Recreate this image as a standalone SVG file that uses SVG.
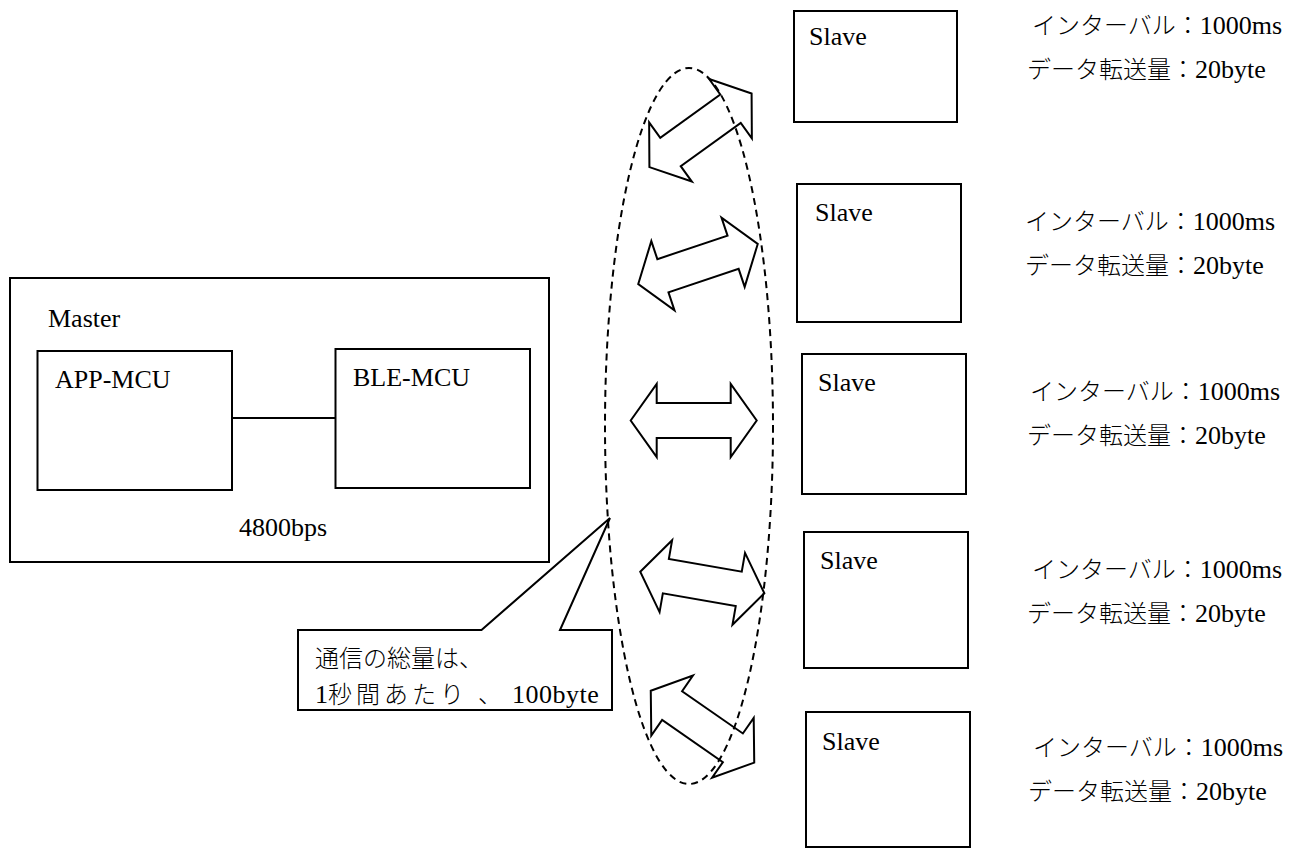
<svg xmlns="http://www.w3.org/2000/svg" width="1298" height="848" viewBox="0 0 1298 848">
<style>
.box{fill:#fff;stroke:#000;stroke-width:2}
.t{font-family:"Liberation Serif","Noto Sans CJK JP",serif;font-size:26px;fill:#000}
.j{font-family:"Noto Sans CJK JP","Liberation Serif",sans-serif;font-size:24px;font-weight:300}
.ln{stroke:#000;stroke-width:2;fill:none}
.arr{fill:none;stroke:#000;stroke-width:2;stroke-linejoin:miter}
.dash{fill:none;stroke:#000;stroke-width:2;stroke-dasharray:7 5}
</style>
<defs>
<path id="dblarrow" d="M -63 0 L -37 -36.5 L -37 -17.5 L 37 -17.5 L 37 -36.5 L 63 0 L 37 36.5 L 37 17.5 L -37 17.5 L -37 36.5 Z"/>
</defs>
<rect width="1298" height="848" fill="#fff"/>

<g id="master">
<rect class="box" x="10" y="278" width="539" height="284"/>
<text class="t" x="48" y="327">Master</text>
<text class="t" x="239" y="536">4800bps</text>
</g>
<g id="app-mcu">
<rect class="box" x="37.5" y="351" width="194.5" height="139"/>
<text class="t" x="55" y="388">APP-MCU</text>
</g>
<g id="ble-mcu">
<rect class="box" x="335.5" y="349" width="194.5" height="139"/>
<text class="t" x="353" y="386">BLE-MCU</text>
</g>

<g id="slave1">
<rect class="box" x="794" y="11" width="163" height="111"/>
<text class="t" x="809" y="45">Slave</text>
<text class="t" x="1032" y="34"><tspan class="j">インターバル：</tspan>1000ms</text>
<text class="t" x="1027" y="78"><tspan class="j">データ転送量：</tspan>20byte</text>
</g>
<g id="slave2">
<rect class="box" x="797" y="184" width="164" height="138"/>
<text class="t" x="815" y="221">Slave</text>
<text class="t" x="1025" y="230"><tspan class="j">インターバル：</tspan>1000ms</text>
<text class="t" x="1025" y="274"><tspan class="j">データ転送量：</tspan>20byte</text>
</g>
<g id="slave3">
<rect class="box" x="802" y="354" width="164" height="140"/>
<text class="t" x="818" y="391">Slave</text>
<text class="t" x="1030" y="400"><tspan class="j">インターバル：</tspan>1000ms</text>
<text class="t" x="1027" y="444"><tspan class="j">データ転送量：</tspan>20byte</text>
</g>
<g id="slave4">
<rect class="box" x="804" y="532" width="164" height="136"/>
<text class="t" x="820" y="569">Slave</text>
<text class="t" x="1032" y="578"><tspan class="j">インターバル：</tspan>1000ms</text>
<text class="t" x="1027" y="622"><tspan class="j">データ転送量：</tspan>20byte</text>
</g>
<g id="slave5">
<rect class="box" x="806" y="712" width="164" height="135"/>
<text class="t" x="822" y="750">Slave</text>
<text class="t" x="1033" y="756"><tspan class="j">インターバル：</tspan>1000ms</text>
<text class="t" x="1028" y="800"><tspan class="j">データ転送量：</tspan>20byte</text>
</g>

<g id="connectors">
<line class="ln" x1="232" y1="418" x2="335.5" y2="418"/>
<use href="#dblarrow" class="arr" transform="translate(700.5,130.3) rotate(-35.8)"/>
<use href="#dblarrow" class="arr" transform="translate(698,264) rotate(-18.5)"/>
<use href="#dblarrow" class="arr" transform="translate(693.7,420.5)"/>
<use href="#dblarrow" class="arr" transform="translate(702.3,582.5) rotate(9.9)"/>
<use href="#dblarrow" class="arr" transform="translate(702.5,726.7) rotate(34.8)"/>
</g>

<g id="group-ellipse">
<ellipse class="dash" cx="689" cy="426" rx="84" ry="358"/>
</g>

<g id="callout">
<path class="box" d="M 298 630 L 481.5 630 L 610 518 L 560 630 L 612 630 L 612 710 L 298 710 Z"/>
<text class="t" x="315" y="667"><tspan class="j">通信の総量は、</tspan></text>
<text class="t" x="315" y="703">1<tspan class="j" letter-spacing="4">秒間あたり</tspan><tspan class="j" x="478">、</tspan><tspan x="512" letter-spacing="0.5">100byte</tspan></text>
</g>
</svg>
